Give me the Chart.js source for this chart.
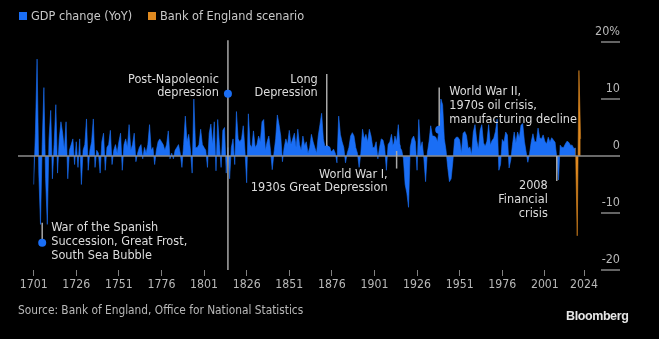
<!DOCTYPE html>
<html>
<head>
<meta charset="utf-8">
<script src="https://cdn.jsdelivr.net/npm/chart.js@4.4.1/dist/chart.umd.min.js"></script>
<style>
  body { margin: 0; background: #000; }
  #wrap { position: relative; width: 659px; height: 339px; overflow: hidden;
          font-family: 'DejaVu Sans Condensed', 'DejaVu Sans', sans-serif; }
  #myChart { position: absolute; left: 0; top: 0; }
  .txt { position: absolute; white-space: nowrap; line-height: 16px; }
  .box { position: absolute; width: 8px; height: 8px; }
  .legend { font-size: 12.6px; color: #c8c8c8; top: 8px; }
  .source { font-size: 11.8px; color: #b8b8b8; left: 18px; top: 302px; }
  .brand { font-size: 12.5px; font-weight: bold; color: #e6e6e6; left: 566px; top: 308px;
           font-family: 'Liberation Sans', Arial, sans-serif; letter-spacing: -0.4px; }
</style>
</head>
<body>
<div id="wrap">
  <canvas id="myChart" width="659" height="339"></canvas>
  <span class="box" style="left:19px; top:12px; background:#1a6ef5"></span>
  <span class="txt legend" style="left:31px">GDP change (YoY)</span>
  <span class="box" style="left:148px; top:12px; background:#e08a20"></span>
  <span class="txt legend" style="left:160px">Bank of England scenario</span>
  <span class="txt source">Source: Bank of England, Office for National Statistics</span>
  <span class="txt brand">Bloomberg</span>
</div>
<script>
// real GDP growth, % year on year, 1701..2019
const firstYear = 1701;
const gdpChange = [
  -5, 4, 17, -3, -12, 2, 12, -4, -12, 3,
  8, -4, 2, 9, -3, 3, 6, 4, 1, 6,
  -4, 1, 2, 3, -1.5, 2.5, -2, 3, -5, 1,
  2, 6.5, -2.5, 1, 2.5, 6.5, -2, 1, 0.5, -3,
  2.5, 4, -2.5, 1.5, 2, 4.5, -1.5, 1, 2, 0.5,
  2.5, 4, -2.5, 2, 3, 1.5, 5.5, 1, 2, 4,
  -1, 0.5, 1.5, 2, -0.5, 1.5, 0.5, 2, 5.5, 1,
  1.5, -1.5, 1, 2.5, 3, 2.5, 2, 1, 2, 4.4,
  -0.5, 0.5, -0.5, 1, 1.5, 2, 0.5, -2, 2, 7,
  2.5, 3.8, 1, -3, 10, 1.5, 1.5, 2, 4.7, 2,
  1.5, 1, -2, 4, 5.6, 2, 6, -2.6, 6.4, 2,
  -2, 4.5, 5, -3, 1.5, -4, 1.5, 3, -1.5, 7.8,
  3, 2.5, 3, 5.3, 1, -4.7, 7.4, 2, 1.5, 4.4,
  1.5, 2, 3.5, 2.5, 6, 6.4, 1, 2.5, 3.5, 1,
  -2.4, 0.5, 3, 7.2, 5.5, 3.5, -1, 1.5, 3, 2,
  4.5, 2, 3, 4, 1.5, 4.7, 2, 1, 3.5, 1.8,
  2.5, 0.5, 1.5, 3.8, 2.5, 1.5, 0.5, 3.5, 5.5, 7.5,
  3, 1.5, 2, 1.5, 1, 0.8, 1.2, 0.5, -1.2, 7,
  3.8, 2.5, 1.5, -1.2, 0.5, 1.5, 3.5, 4.1, 3.5, 1.5,
  0.5, -2, 0.5, 4.7, 3, 3.8, 2.5, 4.7, 3.5, 1.5,
  1.5, 2.5, -0.5, 1.5, 3, 2.8, 1.5, -2.5, 2, 2.5,
  3.8, 1.5, 3.5, 2.5, 5.5, 1.5, 1, -0.5, -5, -6.5,
  -9, 1.5, 3, 3.5, 2.5, -2.5, 6.4, 1.5, 2.5, -0.5,
  -4.5, 0.5, 2.5, 5.3, 3.5, 3.5, 3.3, 2.5, 5, 10,
  9, 3, 1, -2, -4.5, -4, -1, 2.9, 3.3, 3.3,
  2.8, 0.5, 4, 4.3, 3.6, 1.3, 1.6, 0.2, 4.2, 5.5,
  2.8, 1.2, 4.5, 5.5, 2.3, 1.7, 2.6, 5.5, 1.9, 2.7,
  3.1, 4.3, 6.5, -2.5, -1.5, 2.9, 2.4, 4.2, 3.7, -2.1,
  -0.7, 2, 4.2, 2.3, 4.2, 3.2, 5.4, 5.7, 2.6, 0.7,
  -1.1, 0.4, 2.5, 3.9, 2.5, 2.5, 4.9, 3.2, 3, 3.7,
  2.6, 2.1, 3.3, 2.4, 3.2, 2.8, 2.4, -0.3, -4.2, 1.9,
  1.5, 1.5, 2.1, 2.6, 2.4, 1.9, 1.9, 1.3, 1.4
];
const years = gdpChange.map((v, i) => firstYear + i);

const scenarioYears = [2019, 2020, 2021, 2022];
const scenarioValues = [1.4, -14, 15, 3];

const tickYears = [1701, 1726, 1751, 1776, 1801, 1826, 1851, 1876, 1901, 1926, 1951, 1976, 2001, 2024];
const yTicks = [-20, -10, 0, 10, 20];

const blue = '#1a6ef5';
const orange = '#e08a20';
const fontFam = "'DejaVu Sans Condensed', 'DejaVu Sans', sans-serif";

// events: year, line from/to (in % units), dot end, text side and pixel offsets
const notes = [
  { year: 1706, from: -11.7, to: -15.2, dot: 'to', align: 'left', dx: 9, lines: ['War of the Spanish', 'Succession, Great Frost,', 'South Sea Bubble'], ty: -14.5 },
  { year: 1815, from: 20.3, to: -20, dotAt: 10.9, align: 'right', dx: -9, lines: ['Post-Napoleonic', 'depression'], ty: -14.5 },
  { year: 1873, from: 14.4, to: 1.1, dot: 'to', align: 'right', dx: -9, lines: ['Long', 'Depression'], tyFromTop: 5.5 },
  { year: 1914, from: 1.6, to: -2.2, dot: 'from', align: 'right', dx: -9, lines: ['World War I,', '1930s Great Depression'], tyFromBottom: 6 },
  { year: 1939, from: 12, to: 4.6, dot: 'to', align: 'left', dx: 10, lines: ['World War II,', '1970s oil crisis,', 'manufacturing decline'], tyFromTop: 4.5 },
  { year: 2008, from: 0, to: -4.4, align: 'right', dx: -9, lines: ['2008', 'Financial', 'crisis'], tyFromBottom: 5 }
];

const overlay = {
  id: 'overlay',
  afterDatasetsDraw(chart) {
    const c = chart.ctx;
    const xs = chart.scales.x;
    const ys = chart.scales.y;
    const area = chart.chartArea;
    c.save();

    // zero line
    c.strokeStyle = '#8c8c8c';
    c.lineWidth = 1.5;
    c.beginPath();
    c.moveTo(area.left, ys.getPixelForValue(0));
    c.lineTo(area.right, ys.getPixelForValue(0));
    c.stroke();

    // y labels on the right
    c.font = '12.5px ' + fontFam;
    c.fillStyle = '#b8b8b8';
    c.textAlign = 'right';
    c.textBaseline = 'alphabetic';
    yTicks.forEach(v => {
      const py = ys.getPixelForValue(v);
      if (v !== 0) {
        c.strokeStyle = '#c8c8c8';
        c.lineWidth = 1;
        c.beginPath();
        c.moveTo(area.right - 19, py);
        c.lineTo(area.right, py);
        c.stroke();
      }
      c.fillText(v === 20 ? '20%' : String(v), area.right, py - 7);
    });

    // event notes
    c.font = '12.6px ' + fontFam;
    notes.forEach(n => {
      const px = xs.getPixelForValue(n.year);
      const y1 = ys.getPixelForValue(n.from);
      const y2 = ys.getPixelForValue(n.to);
      c.strokeStyle = '#a8a8a8';
      c.lineWidth = 1.5;
      c.beginPath();
      c.moveTo(px, y1);
      c.lineTo(px, y2);
      c.stroke();
      let dotY = null;
      if (n.dotAt !== undefined) dotY = ys.getPixelForValue(n.dotAt);
      else if (n.dot === 'to') dotY = y2;
      else if (n.dot === 'from') dotY = y1;
      if (dotY !== null) {
        c.fillStyle = blue;
        c.beginPath();
        c.arc(px, dotY, 4, 0, Math.PI * 2);
        c.fill();
      }
      let top;
      if (n.tyFromTop !== undefined) top = Math.min(y1, y2) + n.tyFromTop;
      else if (n.tyFromBottom !== undefined) top = Math.max(y1, y2) + n.tyFromBottom;
      else top = dotY + n.ty;
      c.fillStyle = '#dcdcdc';
      c.textAlign = n.align;
      c.textBaseline = 'middle';
      n.lines.forEach((t, i) => c.fillText(t, px + n.dx, top + i * 13.6));
    });
    c.restore();
  }
};

const ctx = document.getElementById('myChart');
const chart = new Chart(ctx, {
  type: 'line',
  data: {
    datasets: [{
      label: 'GDP change (YoY)',
      data: years.map((y, i) => ({ x: y, y: gdpChange[i] })),
      fill: 'origin',
      backgroundColor: blue,
      borderColor: blue,
      borderWidth: 0.6,
      pointRadius: 0,
      tension: 0
    }, {
      label: 'Bank of England scenario',
      data: scenarioYears.map((y, i) => ({ x: y, y: scenarioValues[i] })),
      fill: 'origin',
      backgroundColor: orange,
      borderColor: orange,
      borderWidth: 0.6,
      pointRadius: 0,
      tension: 0
    }]
  },
  options: {
    responsive: false,
    animation: false,
    devicePixelRatio: 1,
    layout: { padding: { left: 18, right: 39, top: 42, bottom: 0 } },
    plugins: { legend: { display: false }, tooltip: { enabled: false } },
    scales: {
      x: {
        type: 'linear',
        min: 1691.8,
        max: 2045.1,
        afterBuildTicks: s => { s.ticks = tickYears.map(v => ({ value: v })); },
        afterFit: s => { s.height = 69; },
        grid: { drawOnChartArea: false, drawTicks: true, tickLength: 6, color: '#808080' },
        border: { display: false },
        ticks: {
          color: '#b8b8b8',
          font: { family: fontFam, size: 12.2 },
          padding: 2,
          maxRotation: 0,
          autoSkip: false,
          callback: v => String(v)
        }
      },
      y: { min: -20, max: 20, display: false }
    }
  },
  plugins: [overlay]
});
</script>
</body>
</html>
